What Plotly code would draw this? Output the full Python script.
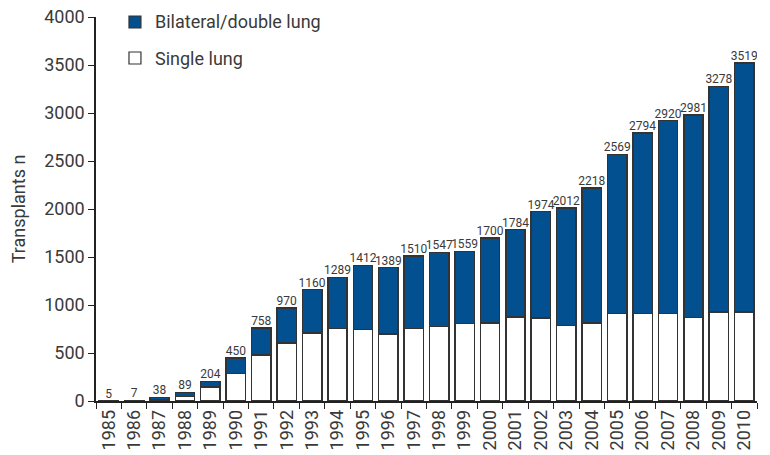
import plotly.graph_objects as go

years = [str(y) for y in range(1985, 2011)]
totals = [5, 7, 38, 89, 204, 450, 758, 970, 1160, 1289, 1412, 1389, 1510, 1547,
          1559, 1700, 1784, 1974, 2012, 2218, 2569, 2794, 2920, 2981, 3278, 3519]
single = [0, 0, 15, 45, 145, 286, 480, 605, 710, 756, 745, 700, 756, 775,
          808, 811, 877, 863, 787, 811, 912, 912, 912, 871, 929, 929]
bilateral = [t - s for t, s in zip(totals, single)]
legend_names = ["Bilateral/double lung", "Single lung"]

FONT = "Roboto"
TXT = "#3a3a3a"
BLUE = "#02508F"
EDGE = "#333333"

fig = go.Figure()
fig.add_trace(go.Bar(x=years, y=single, name="Single lung", showlegend=False,
                     marker=dict(color="white", line=dict(color=EDGE, width=1.5))))
fig.add_trace(go.Bar(x=years, y=bilateral, name="Bilateral/double lung", showlegend=False,
                     marker=dict(color=BLUE, line=dict(color=EDGE, width=1.5))))
fig.add_trace(go.Scatter(x=years, y=totals, mode="text", text=[str(t) for t in totals],
                         textposition="top center", showlegend=False,
                         textfont=dict(family=FONT, size=12, color=TXT), hoverinfo="skip"))

# legend drawn as shapes + text in plot-fraction coordinates
sq = [(0.0499, 0.068, 0.9714, 1.0026, BLUE), (0.0499, 0.068, 0.8776, 0.9089, "white")]
for (x0, x1, y0, y1, c) in sq:
    fig.add_shape(type="rect", xref="paper", yref="paper", x0=x0, x1=x1, y0=y0, y1=y1,
                  fillcolor=c, line=dict(color=EDGE, width=1.2))
for name, yc in zip(legend_names, [0.987, 0.8932]):
    fig.add_annotation(xref="paper", yref="paper", x=0.0862, y=yc, text=name,
                       showarrow=False, xanchor="left", yanchor="middle",
                       font=dict(family=FONT, size=18, color=TXT))

fig.update_layout(
    width=770, height=455,
    margin=dict(l=88, r=21, t=9, b=62),
    barmode="stack", bargap=0.24,
    plot_bgcolor="white", paper_bgcolor="white",
    font=dict(family=FONT, size=18, color=TXT),
    showlegend=False,
    xaxis=dict(type="category", range=[-0.5, 25.5], showline=True, linecolor="#222",
               linewidth=1.5, ticks="outside", ticklen=6, tickcolor="#222",
               tickson="boundaries", tickangle=-90, showgrid=False,
               ticklabeloverflow="allow",
               tickfont=dict(size=18, color=TXT), automargin=False),
    yaxis=dict(range=[0, 4000], tickvals=list(range(0, 4001, 500)), showline=True,
               linecolor="#222", linewidth=1.5, ticks="outside", ticklen=6,
               tickcolor="#222", showgrid=False, zeroline=False,
               ticklabeloverflow="allow",
               tickfont=dict(size=18, color=TXT), automargin=False,
               title=dict(text="Transplants n", font=dict(size=18, color=TXT), standoff=22)),
)

fig.write_html("out.html")
